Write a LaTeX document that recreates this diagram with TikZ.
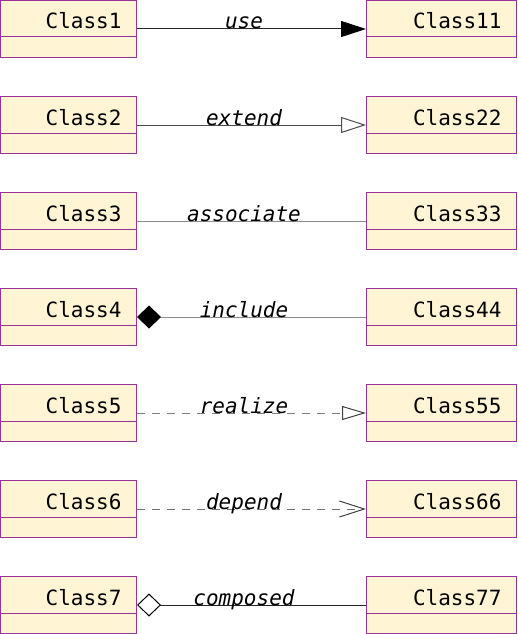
\documentclass[tikz,border=0pt]{standalone}
\usepackage{fontspec}
\setmonofont{DejaVu Sans Mono}
\usetikzlibrary{arrows.meta,positioning}
\definecolor{classfill}{HTML}{FFF5D5}
\definecolor{classborder}{HTML}{993399}
\tikzset{
    classbox/.style={
        rectangle,
        draw=classborder,
        fill=classfill,
        line width=1pt,
        minimum height=57pt,
        inner sep=0pt
    },
    namebox/.style={
        rectangle,
        draw=classborder,
        fill=classfill,
        line width=1pt,
        minimum height=36.5pt,
        inner xsep=15pt,
        inner ysep=0pt,
        text height=20.5pt,
        text depth=0pt,
        align=right,
        font=\ttfamily\fontsize{21}{24}\selectfont
    },
    lbl/.style={
        midway,
        anchor=base,
        xshift=-7.5pt,
        inner sep=0pt,
        font=\ttfamily\itshape\fontsize{21}{24}\selectfont
    },
    link/.style={
        line width=1pt
    }
}
\begin{document}
\begin{tikzpicture}[x=1pt,y=-1pt]
\useasboundingbox (0,0) rectangle (517,634);
% the classes
\foreach \i/\nl/\nr in {0/Class1/Class11,1/Class2/Class22,2/Class3/Class33,
    3/Class4/Class44,4/Class5/Class55,5/Class6/Class66,6/Class7/Class77} {
  \node[classbox,minimum width=136pt] (l\i) at (68.5,29+96*\i) {};
  \node[namebox,text width=106pt,below=0pt of l\i.north] (ln\i) {\nl};
  \node[classbox,minimum width=150pt] (r\i) at (441.5,29+96*\i) {};
  \node[namebox,text width=120pt,below=0pt of r\i.north] (rn\i) {\nr};
}
% the relations
\draw[link,black!85,-{Triangle[length=25pt,width=16pt,color=black]}]
  (l0) -- node[lbl,black] {use} (r0);
\draw[link,black!70,-{Triangle[open,length=25pt,width=16pt]}]
  (l1) -- node[lbl,black] {extend} (r1);
\draw[link,black!45]
  (l2) -- node[lbl,black] {associate} (r2);
\draw[link,black!45,{Diamond[length=24pt,width=23pt,color=black,fill=black]}-]
  (l3) -- node[lbl,black] {include} (r3);
\draw[link,black!50,dash pattern=on 8pt off 7pt,-{Triangle[open,length=24pt,width=14pt,color=black!75]}]
  (l4) -- node[lbl,black] {realize} (r4);
\draw[link,black!55,dash pattern=on 8pt off 7pt,-{Straight Barb[length=25pt,width=16pt,color=black!75]}]
  (l5) -- node[lbl,black] {depend} (r5);
\draw[link,black!85,{Diamond[length=24pt,width=23pt,color=black,fill=white]}-]
  (l6) -- node[lbl,black] {composed} (r6);
\end{tikzpicture}
\end{document}
